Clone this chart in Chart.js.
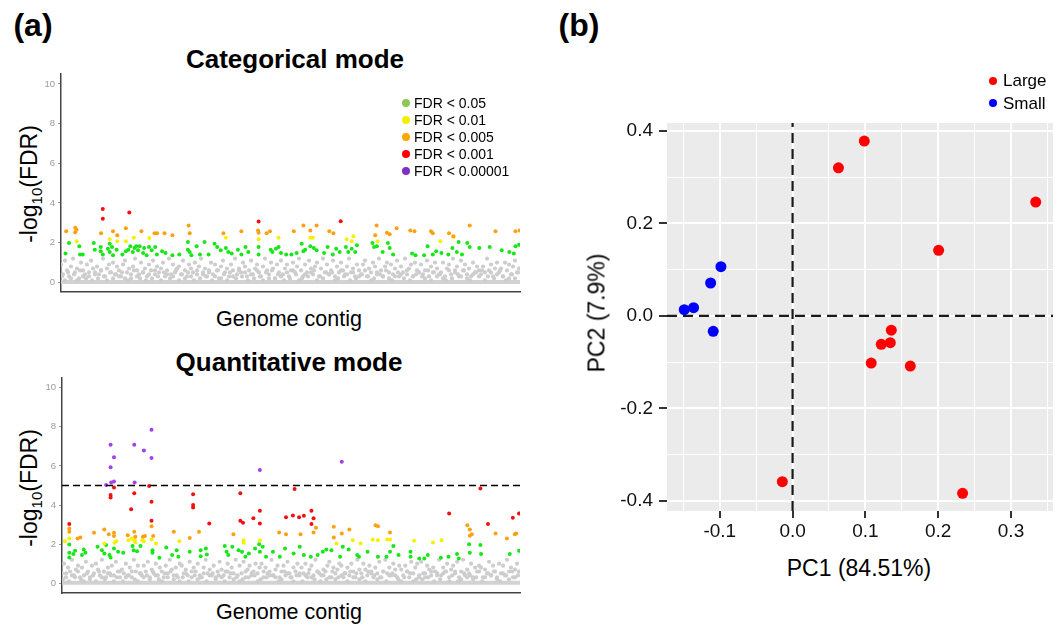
<!DOCTYPE html>
<html>
<head>
<meta charset="utf-8">
<script src="https://cdn.jsdelivr.net/npm/chart.js@4.4.0/dist/chart.umd.min.js"></script>
<style>
body { margin: 0; background: #fff; width: 1062px; height: 627px; position: relative; overflow: hidden; font-family: "Liberation Sans", Arial, sans-serif; }
canvas { position: absolute; }
.c { position: absolute; white-space: nowrap; line-height: 1; color: #000; transform: translate(-50%, -50%); }
.l { position: absolute; white-space: nowrap; line-height: 1; color: #000; transform: translate(0, -50%); }
.dot { position: absolute; border-radius: 50%; transform: translate(-50%, -50%); }
.rot { transform: translate(-50%, -50%) rotate(-90deg); }
</style>
</head>
<body>
<div class="c" style="left:33px;top:25px;font-size:32px;font-weight:bold">(a)</div>
<div class="c" style="left:579px;top:25px;font-size:32px;font-weight:bold">(b)</div>

<div class="c" style="left:295px;top:59px;font-size:26px;font-weight:bold">Categorical mode</div>
<div class="c" style="left:289px;top:362px;font-size:26px;font-weight:bold">Quantitative mode</div>
<div class="c" style="left:289px;top:320px;font-size:21.5px">Genome contig</div>
<div class="c" style="left:289px;top:613px;font-size:21.5px">Genome contig</div>
<div class="c rot" style="left:29px;top:184px;font-size:23px">-log<span style="font-size:15px;position:relative;top:5px">10</span>(FDR)</div>
<div class="c rot" style="left:29px;top:488px;font-size:23px">-log<span style="font-size:15px;position:relative;top:5px">10</span>(FDR)</div>

<canvas id="catChart" width="540" height="240" style="left:0;top:60px"></canvas>
<canvas id="quantChart" width="540" height="240" style="left:0;top:365px"></canvas>
<canvas id="pcaChart" width="482" height="490" style="left:580px;top:60px"></canvas>

<div id="fdrLegend"></div>
<div id="pcaLegend"></div>
<div class="c" style="left:859px;top:568px;font-size:23px">PC1 (84.51%)</div>
<div class="c rot" style="left:597px;top:313px;font-size:23px">PC2 (7.9%)</div>

<script>
// ---- Manhattan plots: genome position (0..459) and -log10(FDR) ----
const genomeMax = 459;
const fdrTicks = [0, 2, 4, 6, 8, 10];
const fdrLabels = ['FDR < 0.05', 'FDR < 0.01', 'FDR < 0.005', 'FDR < 0.001', 'FDR < 0.00001'];
const fdrLegendColors = ['#8cc850', '#f5ee00', '#ffa500', '#ff0000', '#7f2fc4'];

// categorical mode
const catRed = [[41.8,3.7],[41.8,3.2],[68.3,3.52],[197.6,3.07],[279.7,3.08]];
const catOrange = [[5.2,2.57],[14.2,2.75],[14.2,2.53],[15.5,2.65],[40,2.47],[52,2.57],[56.2,2.37],[64.9,2.73],[80.4,2.57],[93.5,2.47],[96,2.47],[103.5,2.47],[111.4,2.37],[127.6,2.87],[128.7,2.47],[162.4,2.47],[180.4,2.57],[197,2.62],[197.6,2.5],[205.6,2.47],[209,2.57],[232.8,2.57],[242.4,2.87],[249.3,2.62],[255.6,2.87],[268.3,2.57],[272.4,2.47],[315.6,2.87],[314.2,2.37],[325.9,2.5],[328.7,2.42],[335.6,2.73],[349.3,2.62],[353.5,2.57],[370,2.57],[371.8,2.47],[388,2.47],[392.4,2.33],[408.7,2.87],[434.5,2.57],[454.5,2.57],[458.7,2.62]];
const catYellow = [[15.6,2.07],[48.7,2.17],[56.2,2.07],[64.9,2.07],[72.8,2.25],[88.3,2.23],[164.9,2.25],[197.6,2.17],[217.6,2.25],[249.3,2.25],[251.8,2.25],[285.6,2.17],[292.4,2.32],[290.7,2.07],[316.6,2.07],[379.3,2.07],[392.4,2.28]];
const catGreen = [[4.5,1.45],[8,1.98],[18.3,1.82],[19,1.4],[21.7,1.4],[32.8,1.98],[33.8,1.65],[39.7,1.78],[39.7,1.57],[41.8,1.4],[46.9,1.7],[48.7,1.95],[48.7,1.53],[51,1.78],[52,1.37],[55.6,1.65],[61.4,1.4],[64.9,1.57],[67.3,1.65],[69.3,1.82],[71.8,1.53],[73.5,1.73],[75.2,1.82],[77,1.62],[78.7,1.82],[82.1,1.48],[83.1,1.73],[85.6,1.37],[88,1.78],[90.7,1.62],[94.2,1.78],[95.9,1.4],[101.1,1.57],[104.5,1.48],[111.4,1.37],[118.3,1.4],[126.9,2.03],[126.9,1.65],[128.7,1.53],[130.4,1.37],[135.6,1.82],[139,1.4],[143.5,2.03],[147.6,1.4],[153.5,1.95],[156.2,1.78],[159.7,1.62],[164.9,1.73],[167.3,1.53],[170.7,1.45],[176.9,1.65],[180.4,1.4],[184.5,1.78],[187.3,1.53],[197.6,1.78],[197.6,1.4],[209.7,1.65],[211.4,1.53],[214.9,1.7],[217.6,1.78],[220,1.48],[225.2,1.4],[230.4,1.4],[235.6,1.48],[240.7,1.95],[242.4,1.57],[244.2,1.65],[249.3,1.82],[252.8,1.73],[255.6,1.62],[263.1,1.48],[266.6,1.78],[271.8,1.4],[275.2,1.7],[278.7,1.53],[284.9,1.78],[287.3,1.53],[290.7,1.7],[294.2,1.53],[295.9,1.87],[311.4,1.98],[313.1,1.78],[315.9,1.82],[321.7,1.53],[326.9,1.98],[328.7,1.73],[332.1,1.4],[351.1,1.45],[354.5,1.37],[363.1,1.37],[366.6,1.82],[371.8,1.4],[375.2,1.57],[380.4,1.48],[387.3,1.4],[391.4,1.73],[395.9,1.53],[397.6,2.03],[401,1.4],[406.2,1.98],[408.7,1.78],[418.3,1.73],[428.7,1.78],[440.7,1.62],[448.3,1.53],[452.8,1.45],[454.5,1.82],[458,1.9]];
const catGrayA = [.9,.4,1.1,.6,.3,.8,1.2,.5,.7,.2, 1.0,.6,.4,.9,.3,1.1,.7,.5,.8,.4, .6,1.2,.3,.7,.9,.5,1.0,.4,.8,.6, .3,.9,1.1,.5,.7,.2,.8,1.2,.6,.4, 1.0,.5,.7,.3,.9,.6,1.1,.4,.8,.5, .7,1.0,.3,.6,1.2,.4,.9,.5,.7,.8, .4,1.1,.6,.3,.9,.7,.5,1.0,.4,.8, 1.2,.5,.7,.3,.6,1.0,.4,.9,.6,.2, .8,1.1,.5,.7,.3,.9,.6,1.2,.4,.7, .5,1.0,.8,.3,.6,1.1,.4,.7,.9,.5, .3,.8,1.2,.6,.4,1.0,.7,.2,.9,.5, 1.1,.4,.7,.9,.3,.6,1.0,.5,.8,1.2, .6,.3,.9,.5,1.1,.7,.4,.8,1.0,.3, .7,1.2,.5,.9,.4,.6,1.1,.3,.8,.5, 1.0,.6,.4,.8,1.2,.5,.7,.3,.9,.6, .4,.9,1.1,.3,.7,.5,1.0,.8,.4,1.2, .6,.3,.8,1.0,.5,.9,.4,.7,1.1,.3, .8,.5,1.2,.4,.7,.9,.3,1.0,.6,.5, .9,.4,.6,1.1,.3,.8,.5,1.0,.7,.4, .5,1.0,.3,.7,.9,.4,1.2,.6,.8,.3, 1.1,.6,.9,.4,.7,.3,1.0,.5,.8,.6, .4,.8,.5,1.2,.6,.9,.3,.7,1.0,.5, .7,.3,1.0,.6,.9,.4,.8,1.1,.5,.7];
const catGrayB = [.3,.1,.5,.2,.4,.1,.6,.3,.2,.5, .1,.4,.2,.6,.3,.1,.5,.2,.4,.3, .5,.2,.1,.4,.6,.3,.2,.5,.1,.4, .2,.6,.3,.1,.5,.4,.2,.3,.6,.1, .4,.2,.5,.3,.1,.6,.2,.4,.3,.5, .1,.3,.6,.2,.4,.1,.5,.3,.2,.6, .3,.5,.1,.4,.2,.6,.3,.1,.5,.2, .6,.2,.4,.3,.1,.5,.2,.6,.4,.1, .2,.4,.3,.5,.6,.1,.3,.2,.5,.4, .5,.1,.2,.6,.3,.4,.1,.5,.2,.3, .4,.6,.3,.1,.2,.5,.4,.3,.6,.2, .1,.3,.5,.4,.2,.6,.1,.3,.4,.5, .3,.2,.6,.1,.5,.3,.4,.2,.1,.6, .2,.5,.4,.3,.6,.2,.1,.4,.5,.3, .6,.1,.3,.5,.2,.4,.6,.3,.1,.2, .4,.2,.5];

// quantitative mode
const quantPurple = [[48.7,7.08],[48.7,5.93],[52.1,6.44],[44.2,5.03],[49.3,5.15],[52.1,5.2],[72.4,7.08],[72.8,5.15],[82.1,6.79],[89.7,7.85],[89.7,6.41],[198.3,5.79],[280.4,6.22]];
const quantRed = [[7.3,3.03],[48.7,4.51],[48.7,4.39],[52.1,4.9],[69.3,3.78],[72.4,4.6],[87.3,4.97],[89.7,4.17],[89.7,3.2],[131.4,4.55],[131.4,4.0],[131.4,3.88],[147.6,3.06],[178.7,4.6],[178.7,3.2],[181.4,3.09],[191.8,3.32],[198.3,3.71],[198.3,3.06],[224.5,3.37],[231.4,3.47],[233.1,4.82],[237.6,3.37],[242.4,3.45],[250,3.71],[250,3.03],[252.1,3.32],[388,3.57],[419.3,4.85],[426.9,3.03],[451.8,3.35],[458,3.57]];
const quantOrange = [[7.3,2.8],[7.3,2.63],[18.3,2.34],[15.6,2.29],[32.1,2.58],[42.4,2.75],[46.9,2.51],[52.1,2.58],[52.1,2.41],[65.9,2.46],[72.4,2.63],[73.5,2.38],[81.1,2.38],[83.1,2.41],[89.7,2.92],[91.4,2.41],[112.1,2.63],[128,2.32],[137.3,2.63],[171.8,2.5],[217.6,2.6],[224.5,2.5],[239,2.5],[252.1,2.6],[254.5,2.84],[272.4,2.89],[272.4,2.34],[280.4,2.55],[288,2.75],[314.2,2.96],[316.6,2.92],[328.7,2.6],[406.2,2.96],[408.7,2.75],[408.7,2.43],[410.7,2.5],[434.5,2.55],[445.9,2.29],[453.8,2.51],[455.2,2.55]];
const quantYellow = [[2.8,2.15],[7.3,2.29],[42.4,2.03],[52.8,2.07],[54.5,2.15],[66.6,2.2],[70,2.29],[72.8,2.2],[73.5,2.09],[80.4,2.2],[82.1,2.15],[89.7,2.24],[94.2,2.03],[117.6,2.15],[182.1,2.2],[182.1,2.07],[198.3,2.2],[275.2,2.03],[291.4,2.2],[299.3,2.03],[311.4,2.24],[316.6,2.2],[325.9,2.24],[328.7,2.24],[352.8,2.17],[371.8,2.09],[380.4,2.2]];
const quantGreen = [[7.3,1.98],[7.3,1.56],[7.3,1.32],[11.4,1.49],[13.1,1.66],[20,1.44],[21.8,1.73],[23.5,1.56],[35.6,1.86],[40,1.69],[42.4,1.52],[44.2,1.95],[47.6,1.44],[48.7,1.32],[52.1,1.78],[56.2,1.61],[61.4,1.56],[70.7,1.9],[71.8,1.69],[75.2,1.64],[78.7,1.91],[90.7,1.69],[90.7,1.56],[97.6,1.3],[104.5,1.83],[110.4,1.44],[114.9,1.69],[116.6,1.35],[128,1.61],[139,1.69],[139,1.38],[144.2,1.78],[145.2,1.47],[163.1,1.9],[164.9,1.61],[166.6,1.44],[170.7,1.86],[176.9,1.69],[180.4,1.61],[183.8,1.35],[187.3,1.52],[193.5,1.78],[197.6,2.0],[198.3,1.61],[201.1,1.86],[204.5,1.35],[211.4,1.61],[218.3,1.35],[223.5,1.78],[232.1,1.52],[238.3,1.86],[242.4,1.44],[249.3,1.35],[256.2,1.44],[261.4,1.61],[264.9,1.73],[270,1.69],[278.7,1.35],[281.4,1.86],[287.3,1.73],[295.9,1.44],[297.6,1.35],[306.2,1.61],[316.6,1.35],[325.2,1.35],[328.7,1.61],[332.1,1.9],[337.3,1.44],[349.3,1.61],[349.3,1.35],[358,1.26],[363.1,1.26],[366.6,1.44],[379.7,1.3],[387.3,1.35],[395.9,1.49],[397.6,1.26],[408,2.0],[408.7,1.56],[419.3,1.95],[420,1.49],[448.7,1.49],[458,1.66]];
const quantGrayA = [.5,1.0,.3,.8,.6,1.2,.4,.7,.9,.3, .8,.4,1.1,.6,.2,.9,.5,1.0,.7,.4, 1.2,.6,.3,.8,.5,.9,.4,1.1,.6,.3, .7,.5,1.0,.4,.8,.3,1.2,.6,.9,.5, .4,.9,.6,1.1,.3,.7,.5,1.0,.4,.8, .6,.3,.9,.5,1.2,.7,.4,.8,.3,1.0, .9,.5,.7,.4,1.1,.3,.8,.6,1.0,.4, .3,.8,1.2,.5,.7,.4,.9,.3,.6,1.1, .7,.4,.6,1.0,.3,.8,.5,1.2,.4,.9, .5,1.1,.3,.7,.9,.4,.6,1.0,.5,.8, 1.0,.3,.8,.5,.6,1.2,.4,.7,.9,.3, .6,.9,.4,1.1,.5,.3,.8,.6,1.0,.4, .8,.5,1.0,.3,.7,.9,.4,1.2,.6,.5, .4,.7,.6,.9,1.1,.3,.8,.5,.7,1.0, .9,.3,.5,.8,.4,1.0,.6,.3,1.2,.7, .5,1.0,.7,.4,.9,.6,.3,.8,.5,1.1, .3,.6,1.2,.5,.8,.4,1.0,.7,.3,.9, .7,.4,.9,.6,.3,1.1,.5,.8,1.0,.4, 1.1,.5,.3,.9,.7,.4,.8,.6,.5,1.2, .4,.8,.6,1.0,.3,.7,.9,.5,1.1,.3, .6,1.2,.4,.7,.5,1.0,.3,.8,.6,.9, .8,.3,.7,.5,1.1,.4,.9,.6,.3,1.0, .5,.9,.4,1.2,.6,.8,.3,.7,1.0,.6];
const quantGrayB = [.2,.5,.1,.4,.3,.6,.2,.1,.5,.3, .4,.1,.6,.3,.2,.5,.4,.1,.3,.6, .1,.3,.4,.6,.2,.1,.5,.3,.4,.2, .6,.4,.2,.1,.5,.3,.6,.2,.4,.1, .3,.5,.1,.6,.4,.2,.3,.5,.1,.4, .5,.2,.4,.3,.1,.6,.5,.2,.3,.1, .2,.6,.3,.5,.4,.1,.2,.6,.3,.4, .4,.3,.1,.2,.6,.5,.3,.1,.4,.5, .1,.4,.5,.3,.2,.6,.1,.4,.2,.3, .6,.2,.3,.4,.5,.1,.6,.3,.5,.2, .3,.1,.6,.5,.4,.2,.3,.6,.1,.4, .5,.4,.2,.1,.3,.6,.5,.1,.2,.3, .2,.5,.3,.6,.1,.4,.2,.5,.6,.1, .4,.6,.1,.2,.5,.3,.4,.2,.3,.6, .1,.3,.5,.4,.6,.2,.1,.5,.4,.2, .6,.3,.4];
const quantCutoff = 5;

// ---- PCA ----
const largePC1 = [0.0985, 0.063, 0.334, 0.2006, 0.1356, 0.1218, 0.1342, 0.108, 0.1617, -0.0141, 0.2335];
const largePC2 = [0.378, 0.320, 0.246, 0.1416, -0.031, -0.0616, -0.058, -0.102, -0.1085, -0.3585, -0.3838];
const smallPC1 = [-0.0984, -0.1126, -0.1488, -0.136, -0.109];
const smallPC2 = [0.1063, 0.071, 0.0134, 0.0177, -0.0335];
const pcXTicks = [-0.15, -0.1, -0.05, 0, 0.05, 0.1, 0.15, 0.2, 0.25, 0.3, 0.35];
const pcYTicks = [-0.4, -0.3, -0.2, -0.1, 0, 0.1, 0.2, 0.3, 0.4];
const pcLegend = ['Large', 'Small'];
const pcColors = ['#ff0000', '#0000ff'];

const FONT = '"Liberation Sans", Arial, sans-serif';
Chart.defaults.font.family = FONT;

function pts(arr) { return arr.map(p => ({ x: p[0], y: p[1] })); }
function grayPts(vals, step, offset) { return vals.map((v, i) => ({ x: i * step + offset, y: v })); }
function dots(data, color, order) {
    return { data: pts(data), backgroundColor: color, borderWidth: 0, pointRadius: 2, order: order };
}

function manhattan(id, d, yMin, leftW, padTop, bottomH, cutoff) {
    const sets = [
        dots(d.purple || [], '#a040ee', 1),
        dots(d.red, '#f01010', 2),
        dots(d.orange, '#ffa010', 3),
        dots(d.yellow, '#f5f000', 4),
        dots(d.green, '#18e618', 5),
        { data: grayPts(d.grayA, 2, 0), backgroundColor: '#cdcdcd', borderWidth: 0, pointRadius: 2.1, order: 8 },
        { data: grayPts(d.grayB, 3, 1), backgroundColor: '#cdcdcd', borderWidth: 0, pointRadius: 2.1, order: 9 },
        { data: [{ x: 0, y: 0.02 }, { x: genomeMax, y: 0.02 }], showLine: true, borderColor: '#d2d2d2', borderWidth: 4, pointRadius: 0, order: 10 }
    ];
    if (cutoff) {
        sets.push({ data: [{ x: 0, y: cutoff }, { x: genomeMax, y: cutoff }], showLine: true, borderColor: '#000', borderWidth: 1.5, borderDash: [7, 4], pointRadius: 0, order: 0 });
    }
    new Chart(document.getElementById(id), {
        type: 'scatter',
        data: { datasets: sets },
        options: {
            responsive: false, animation: false, devicePixelRatio: 1,
            layout: { padding: { top: padTop, right: 20, left: 0, bottom: 0 } },
            plugins: { legend: { display: false }, tooltip: { enabled: false } },
            scales: {
                x: {
                    type: 'linear', min: 0, max: genomeMax,
                    ticks: { display: false },
                    grid: { display: false },
                    border: { display: true, color: '#444', width: 1.5 },
                    afterFit: s => { s.height = bottomH; }
                },
                y: {
                    min: yMin, max: 10.5,
                    afterBuildTicks: s => { s.ticks = fdrTicks.map(v => ({ value: v })); },
                    afterFit: s => { s.width = leftW; },
                    grid: { drawOnChartArea: false, drawTicks: true, tickLength: 3, tickColor: '#999', tickWidth: 1 },
                    border: { display: true, color: '#444', width: 1.5 },
                    ticks: { color: '#9a9a9a', font: { size: 9.5 }, padding: 3 }
                }
            }
        }
    });
}

manhattan('catChart', { red: catRed, orange: catOrange, yellow: catYellow, green: catGreen, grayA: catGrayA, grayB: catGrayB }, -0.45, 61, 14, 7, null);
manhattan('quantChart', { purple: quantPurple, red: quantRed, orange: quantOrange, yellow: quantYellow, green: quantGreen, grayA: quantGrayA, grayB: quantGrayB }, -0.5, 62, 13, 12, quantCutoff);

// legends
(function () {
    const box = document.getElementById('fdrLegend');
    fdrLabels.forEach((t, i) => {
        const y = 102.5 + i * 17;
        box.insertAdjacentHTML('beforeend',
            '<div class="dot" style="left:406px;top:' + y + 'px;width:8px;height:8px;background:' + fdrLegendColors[i] + '"></div>' +
            '<div class="l" style="left:414px;top:' + y + 'px;font-size:14px">' + t + '</div>');
    });
    const pbox = document.getElementById('pcaLegend');
    pcLegend.forEach((t, i) => {
        const y = 80 + i * 22.5;
        pbox.insertAdjacentHTML('beforeend',
            '<div class="dot" style="left:993px;top:' + (y + 0.5) + 'px;width:8px;height:8px;background:' + pcColors[i] + '"></div>' +
            '<div class="l" style="left:1003px;top:' + y + 'px;font-size:17px">' + t + '</div>');
    });
})();

// ---- PCA chart ----
const panelBg = {
    id: 'panelBg',
    beforeDraw(c) {
        const a = c.chartArea;
        c.ctx.save();
        c.ctx.fillStyle = '#ebebeb';
        c.ctx.fillRect(a.left, a.top, a.right - a.left, a.bottom - a.top);
        c.ctx.restore();
    }
};
const isMajorX = v => Math.abs(v * 10 - Math.round(v * 10)) < 1e-6;
const isMajorY = v => Math.abs(v * 5 - Math.round(v * 5)) < 1e-6;

function zip(xs, ys) { return xs.map((x, i) => ({ x: x, y: ys[i] })); }
const pcXMin = -0.1725, pcXMax = 0.3577, pcYMin = -0.422, pcYMax = 0.417;

new Chart(document.getElementById('pcaChart'), {
    type: 'scatter',
    data: {
        datasets: [
            { label: pcLegend[0], data: zip(largePC1, largePC2), backgroundColor: pcColors[0], borderWidth: 0, pointRadius: 5.5, order: 1 },
            { label: pcLegend[1], data: zip(smallPC1, smallPC2), backgroundColor: pcColors[1], borderWidth: 0, pointRadius: 5.5, order: 1 },
            { data: [{ x: 0, y: pcYMin }, { x: 0, y: pcYMax }], showLine: true, borderColor: '#1a1a1a', borderWidth: 2.2, borderDash: [10, 6], pointRadius: 0, order: 2 },
            { data: [{ x: pcXMin, y: 0 }, { x: pcXMax, y: 0 }], showLine: true, borderColor: '#1a1a1a', borderWidth: 2.2, borderDash: [10, 6], pointRadius: 0, order: 2 }
        ]
    },
    options: {
        responsive: false, animation: false, devicePixelRatio: 1,
        layout: { padding: { top: 63, right: 9, left: 0, bottom: 0 } },
        plugins: { legend: { display: false }, tooltip: { enabled: false } },
        scales: {
            x: {
                type: 'linear', min: pcXMin, max: pcXMax,
                afterBuildTicks: s => { s.ticks = pcXTicks.map(v => ({ value: v })); },
                afterFit: s => { s.height = 39; },
                grid: {
                    color: '#fff',
                    lineWidth: ctx => (ctx.tick && isMajorX(ctx.tick.value)) ? 2 : 1,
                    tickColor: ctx => (ctx.tick && isMajorX(ctx.tick.value)) ? '#333' : 'rgba(0,0,0,0)',
                    tickLength: 7, tickWidth: 2
                },
                border: { display: false },
                ticks: {
                    autoSkip: false, maxRotation: 0, color: '#111', font: { size: 19 }, padding: 2,
                    callback: v => isMajorX(v) ? v.toFixed(1) : ''
                }
            },
            y: {
                min: pcYMin, max: pcYMax,
                afterBuildTicks: s => { s.ticks = pcYTicks.map(v => ({ value: v })); },
                afterFit: s => { s.width = 87; },
                grid: {
                    color: '#fff',
                    lineWidth: ctx => (ctx.tick && isMajorY(ctx.tick.value)) ? 2 : 1,
                    tickColor: ctx => (ctx.tick && isMajorY(ctx.tick.value)) ? '#333' : 'rgba(0,0,0,0)',
                    tickLength: 8, tickWidth: 2
                },
                border: { display: false },
                ticks: {
                    autoSkip: false, color: '#111', font: { size: 19 }, padding: 6,
                    callback: v => isMajorY(v) ? v.toFixed(1) : ''
                }
            }
        }
    },
    plugins: [panelBg]
});
</script>
</body>
</html>
